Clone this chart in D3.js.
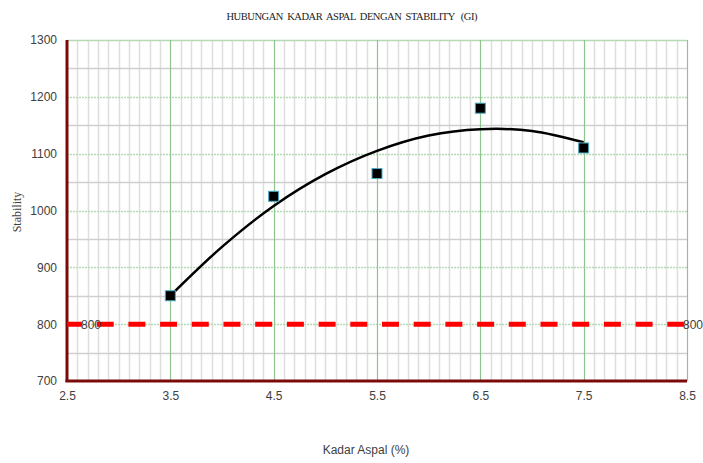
<!DOCTYPE html>
<html><head><meta charset="utf-8">
<script src="https://cdn.jsdelivr.net/npm/d3@7"></script>
<style>body{margin:0;background:#fff}svg{display:block}</style>
</head><body>
<script>
const kadarAspal = [3.5, 4.5, 5.5, 6.5, 7.5];
const stability = [850, 1025, 1065, 1180, 1110];
const trendX = [3.5, 4.0, 4.5, 5.0, 5.5, 6.0, 6.5, 7.0, 7.5];
const trendY = [850, 936, 1008, 1064, 1105, 1132, 1143, 1140, 1120];
const xTicks = [2.5, 3.5, 4.5, 5.5, 6.5, 7.5, 8.5];
const yTicks = [700, 800, 900, 1000, 1100, 1200, 1300];
const specLimit = 800;
const title = "HUBUNGAN  KADAR  ASPAL  DENGAN  STABILITY   (GI)";
const xTitle = "Kadar Aspal (%)";
const yTitle = "Stability";

const W = 703, H = 463;
const L = 67, R = 687, T = 40, B = 381;
const svg = d3.select("body").append("svg").attr("width", W).attr("height", H);
const x = d3.scaleLinear().domain([2.5, 8.5]).range([L, R]);
const y = d3.scaleLinear().domain([700, 1300]).range([B, T]);

const g = svg.append("g");
const minorX = d3.range(26, 85).map(d => d / 10).filter(v => Math.abs(((v * 10) % 10) - 5) > 0.01);
g.selectAll("line.mx").data(minorX).join("line")
  .attr("x1", d => Math.round(x(d)) + 0.5).attr("x2", d => Math.round(x(d)) + 0.5)
  .attr("y1", T).attr("y2", B)
  .attr("stroke", "#dedede").attr("stroke-width", 1.5);
const minorY = [750, 850, 950, 1050, 1150, 1250];
g.selectAll("line.my").data(minorY).join("line")
  .attr("x1", L).attr("x2", R)
  .attr("y1", d => Math.round(y(d)) + 0.5).attr("y2", d => Math.round(y(d)) + 0.5)
  .attr("stroke", "#cfcfcf").attr("stroke-width", 1.5);
g.selectAll("line.gy").data(yTicks.filter(v => v > 700)).join("line")
  .attr("x1", L).attr("x2", R)
  .attr("y1", d => Math.round(y(d)) + 0.5).attr("y2", d => Math.round(y(d)) + 0.5)
  .attr("stroke", "#b5d9b5").attr("stroke-width", 1.5).attr("stroke-dasharray", d => d === 1300 ? null : "2,1");
g.selectAll("line.gx").data(xTicks.filter(v => v > 2.5)).join("line")
  .attr("x1", d => Math.round(x(d)) + 0.5).attr("x2", d => Math.round(x(d)) + 0.5)
  .attr("y1", T).attr("y2", B)
  .attr("stroke", "#8fc48f").attr("stroke-width", 1.2);

g.append("line").attr("x1", L).attr("x2", L).attr("y1", T).attr("y2", B + 1)
  .attr("stroke", "#7b0a0a").attr("stroke-width", 3);
g.append("line").attr("x1", L - 1.5).attr("x2", R).attr("y1", B).attr("y2", B)
  .attr("stroke", "#7b0a0a").attr("stroke-width", 3);

const ya = d3.axisLeft(y).tickValues(yTicks).tickSize(0).tickPadding(10).tickFormat(d3.format("d"));
const yg = svg.append("g").attr("transform", `translate(${L},0)`).call(ya);
yg.select(".domain").remove();
yg.selectAll("text").attr("font-family", "Liberation Sans, Arial, sans-serif").attr("font-size", 12).attr("fill", "#404040");
const xa = d3.axisBottom(x).tickValues(xTicks).tickSize(0).tickPadding(10).tickFormat(d3.format(".1f"));
const xg = svg.append("g").attr("transform", `translate(0,${B})`).call(xa);
xg.select(".domain").remove();
xg.selectAll("text").attr("font-family", "Liberation Sans, Arial, sans-serif").attr("font-size", 12).attr("fill", "#404040");

svg.append("line").attr("x1", x(2.5)).attr("x2", x(8.5)).attr("y1", y(specLimit)).attr("y2", y(specLimit))
  .attr("stroke", "#ff0000").attr("stroke-width", 5).attr("stroke-dasharray", "17,14.7")
  .attr("stroke-dashoffset", 2);
svg.append("text").attr("x", x(2.5) + 14).attr("y", y(specLimit) + 4.5).text(specLimit)
  .attr("font-family", "Liberation Sans, Arial, sans-serif").attr("font-size", 12).attr("fill", "#404040");
svg.append("text").attr("x", x(8.5) - 4).attr("y", y(specLimit) + 4.5).text(specLimit)
  .attr("font-family", "Liberation Sans, Arial, sans-serif").attr("font-size", 12).attr("fill", "#404040");

const line = d3.line().x((d, i) => x(trendX[i])).y(d => y(d)).curve(d3.curveCatmullRom);
svg.append("path").datum(trendY).attr("d", line).attr("fill", "none")
  .attr("stroke", "#000").attr("stroke-width", 2.5);

svg.selectAll("rect.pt").data(stability).join("rect")
  .attr("x", (d, i) => x(kadarAspal[i]) - 5).attr("y", d => y(d) - 5)
  .attr("width", 10).attr("height", 10)
  .attr("fill", "#000").attr("stroke", "#4bacc6").attr("stroke-width", 1);

svg.append("text").attr("x", 352).attr("y", 20).attr("text-anchor", "middle").text(title)
  .style("white-space", "pre")
  .attr("font-family", "Liberation Serif, Times New Roman, serif").attr("font-size", 10.5)
  .attr("fill", "#222").attr("textLength", 251).attr("lengthAdjust", "spacing");
svg.append("text").attr("x", 366).attr("y", 454).attr("text-anchor", "middle").text(xTitle)
  .attr("font-family", "Liberation Sans, Arial, sans-serif").attr("font-size", 12).attr("fill", "#404040");
svg.append("text").attr("transform", "translate(21,212) rotate(-90)").attr("text-anchor", "middle").text(yTitle)
  .attr("font-family", "Liberation Serif, Times New Roman, serif").attr("font-size", 12).attr("fill", "#404040");
</script>
</body></html>
